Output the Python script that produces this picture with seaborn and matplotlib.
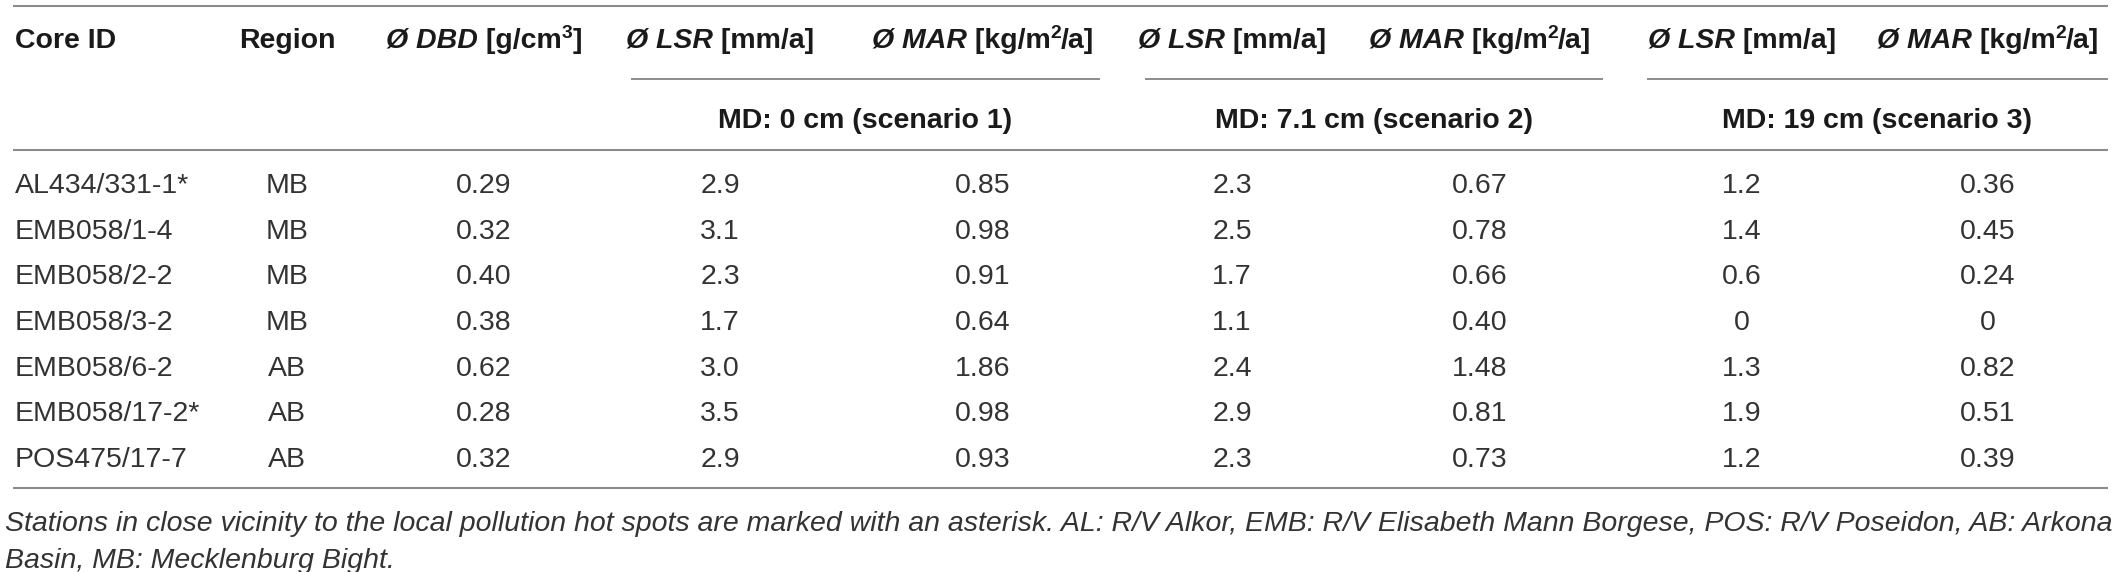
import pandas as pd
import matplotlib
matplotlib.use("Agg")
import matplotlib.pyplot as plt
import seaborn as sns

# Table values
core_ids = ["AL434/331-1*", "EMB058/1-4", "EMB058/2-2", "EMB058/3-2",
            "EMB058/6-2", "EMB058/17-2*", "POS475/17-7"]
regions = ["MB", "MB", "MB", "MB", "AB", "AB", "AB"]
dbd = [0.29, 0.32, 0.40, 0.38, 0.62, 0.28, 0.32]
lsr_s1 = [2.9, 3.1, 2.3, 1.7, 3.0, 3.5, 2.9]
mar_s1 = [0.85, 0.98, 0.91, 0.64, 1.86, 0.98, 0.93]
lsr_s2 = [2.3, 2.5, 1.7, 1.1, 2.4, 2.9, 2.3]
mar_s2 = [0.67, 0.78, 0.66, 0.40, 1.48, 0.81, 0.73]
lsr_s3 = [1.2, 1.4, 0.6, 0, 1.3, 1.9, 1.2]
mar_s3 = [0.36, 0.45, 0.24, 0, 0.82, 0.51, 0.39]

scenarios = ["MD: 0 cm (scenario 1)", "MD: 7.1 cm (scenario 2)", "MD: 19 cm (scenario 3)"]
footnote = ["Stations in close vicinity to the local pollution hot spots are marked with an asterisk. "
            "AL: R/V Alkor, EMB: R/V Elisabeth Mann Borgese, POS: R/V Poseidon, AB: Arkona",
            "Basin, MB: Mecklenburg Bight."]

df = pd.DataFrame({"core": core_ids, "region": regions, "dbd": dbd,
                   "lsr1": lsr_s1, "mar1": mar_s1, "lsr2": lsr_s2, "mar2": mar_s2,
                   "lsr3": lsr_s3, "mar3": mar_s3})
decimals = {"dbd": 2, "lsr1": 1, "mar1": 2, "lsr2": 1, "mar2": 2, "lsr3": 1, "mar3": 2}

lsr_head = [("Ø LSR", "bi"), (" [mm/a]", "b")]
mar_head = [("Ø MAR", "bi"), (" [kg/m", "b"), ("2", "bs"), ("/a]", "b")]
headers = [[("Region", "b")],
           [("Ø DBD", "bi"), (" [g/cm", "b"), ("3", "bs"), ("]", "b")],
           lsr_head, mar_head, lsr_head, mar_head, lsr_head, mar_head]

# layout (pixels)
col_x = [287, 484, 720, 983, 1232, 1480, 1742, 1988]
group_lines = [(631, 1100), (1145, 1603), (1647, 2108)]
row_y0, row_dy = 183, 45.67
FS = 20.5
half_cap = 10

sns.set_theme(style="white")
plt.rcParams["font.family"] = ["Liberation Sans", "DejaVu Sans"]

fig = plt.figure(figsize=(21.15, 5.72), dpi=100)
ax = fig.add_axes([0, 0, 1, 1])
ax.set_xlim(0, 2115)
ax.set_ylim(572, 0)
ax.axis("off")
renderer = fig.canvas.get_renderer()


def draw_runs(x, yc, runs, color="#1a1a1a"):
    items = []
    for s, st in runs:
        kw = dict(fontsize=FS, fontweight="bold" if "b" in st else "normal", color=color)
        if "i" in st:
            kw["fontstyle"] = "italic"
        dy = 0
        if "s" in st:
            kw["fontsize"] = FS * 0.68
            dy = -10
        t = ax.text(0, yc + half_cap + dy, s, ha="left", va="baseline", **kw)
        items.append((t, t.get_window_extent(renderer).width))
    total = sum(w for _, w in items)
    cur = x - total / 2
    for t, w in items:
        t.set_x(cur)
        cur += w


# rules
ax.hlines([5.5, 150, 488], 13, 2108, color="#8c8c8c", lw=1.5)
for x0, x1 in group_lines:
    ax.hlines(79, x0, x1, color="#6e6e6e", lw=1.1)

# header row
ax.text(15, 38 + half_cap, "Core ID", fontsize=FS, fontweight="bold", color="#1a1a1a",
        ha="left", va="baseline")
for x, runs in zip(col_x, headers):
    draw_runs(x, 38, runs)
for (x0, x1), s in zip(group_lines, scenarios):
    ax.text((x0 + x1) / 2, 118 + half_cap, s, fontsize=FS, fontweight="bold",
            color="#1a1a1a", ha="center", va="baseline")

# body
cols = ["region", "dbd", "lsr1", "mar1", "lsr2", "mar2", "lsr3", "mar3"]
for i, row in df.iterrows():
    y = row_y0 + i * row_dy + half_cap
    ax.text(15, y, row["core"], fontsize=FS, color="#333333", ha="left", va="baseline")
    for x, c in zip(col_x, cols):
        v = row[c]
        if c == "region":
            s = v
        else:
            s = f"{v:.{decimals[c]}f}" if v != 0 else "0"
        ax.text(x, y, s, fontsize=FS, color="#333333", ha="center", va="baseline")

# footnote
ax.text(5, 531, footnote[0], fontsize=FS, fontstyle="italic", color="#333333",
        ha="left", va="baseline")
ax.text(5, 568, footnote[1], fontsize=FS, fontstyle="italic", color="#333333",
        ha="left", va="baseline")

fig.savefig("out.png", dpi=100)
